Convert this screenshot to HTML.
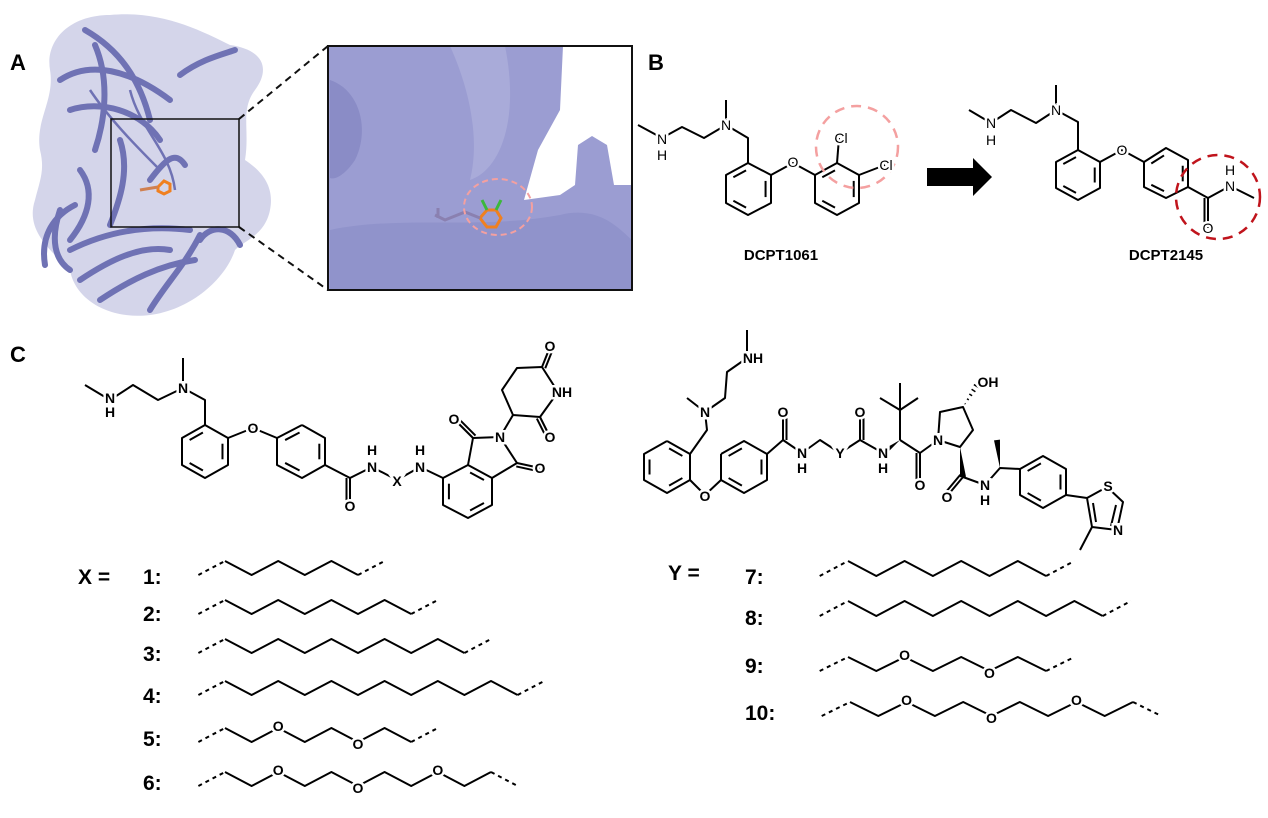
<!DOCTYPE html>
<html><head><meta charset="utf-8"><style>
html,body{margin:0;padding:0;background:#fff;}
svg{display:block;}
.a{font-family:"Liberation Sans",sans-serif;font-weight:bold;font-size:14px;text-anchor:middle;dominant-baseline:central;fill:#000;stroke:#fff;stroke-width:5px;}
.b{font-family:"Liberation Sans",sans-serif;font-size:14px;text-anchor:middle;dominant-baseline:central;fill:#000;stroke:#fff;stroke-width:5px;}
text.f{stroke:none;}
.lab{font-family:"Liberation Sans",sans-serif;font-weight:bold;font-size:22px;fill:#000;}
.num{font-family:"Liberation Sans",sans-serif;font-weight:bold;font-size:21px;fill:#000;}
.nm{font-family:"Liberation Sans",sans-serif;font-weight:bold;font-size:15px;fill:#000;text-anchor:middle;}
</style></head><body>
<svg id="s" width="1268" height="818" viewBox="0 0 1268 818" xmlns="http://www.w3.org/2000/svg">
<g id="prot">
<path d="M50,70 C45,40 70,15 110,15 C160,10 200,30 230,45 C265,50 270,70 255,90 C240,110 250,130 245,160 C260,170 275,185 270,210 C265,235 245,240 235,250 C225,280 190,310 150,315 C110,320 75,300 70,270 C50,250 25,230 35,200 C40,180 45,170 40,150 C35,120 55,100 50,70 Z" fill="#cfd0e8" opacity="0.9"/>
<g fill="none" stroke="#6f72b4" stroke-width="6" stroke-linecap="round">
<path d="M60,80 C90,60 130,70 170,100"/><path d="M85,30 C120,50 140,80 150,120"/>
<path d="M70,110 C100,100 140,110 160,140"/><path d="M95,45 C110,80 105,120 95,150"/>
<path d="M180,75 C200,60 220,55 235,50"/><path d="M120,140 C130,170 120,200 110,225"/>
<path d="M80,170 C95,190 90,215 70,240"/><path d="M150,180 C165,160 175,150 185,165"/>
<path d="M70,250 C110,230 150,225 190,230"/><path d="M80,280 C110,260 140,245 170,250"/>
<path d="M100,300 C130,280 160,265 195,260"/><path d="M150,310 C165,285 185,265 200,235"/>
<path d="M200,240 C210,225 230,225 240,245"/><path d="M60,210 C50,240 55,260 70,270"/>
<path d="M45,265 C40,235 55,215 75,205"/>
</g>
<g fill="none" stroke="#6f72b4" stroke-width="2.5"><path d="M90,90 C110,120 140,150 160,170"/><path d="M130,90 C140,130 170,150 175,190"/></g>
<path d="M158,187 l6,-6 l6,3 l0,7 l-6,3 l-6,-3 z" fill="none" stroke="#f08020" stroke-width="3"/>
<path d="M140,190 l18,-3" stroke="#d08050" stroke-width="3"/>
<rect x="111" y="119" width="128" height="108" fill="none" stroke="#111" stroke-width="1.5"/>
<line x1="239" y1="119" x2="328" y2="46" stroke="#111" stroke-width="2" stroke-dasharray="7,5"/>
<line x1="239" y1="227" x2="328" y2="290" stroke="#111" stroke-width="2" stroke-dasharray="7,5"/>
<rect x="328" y="46" width="304" height="244" fill="#9b9dd2"/>
<path d="M563,46 L632,46 L632,185 L614,185 L607,145 L592,136 L578,145 L575,185 L560,195 L524,200 L538,150 L560,110 Z" fill="#fff"/>
<path d="M330,80 C360,90 370,130 355,160 C345,175 335,180 330,178 Z" fill="#8a8cc6"/>
<path d="M450,46 C470,90 480,140 470,180 C500,170 520,120 505,46 Z" fill="#a9abd9"/>
<path d="M330,230 C400,215 480,230 560,215 C600,205 620,230 632,240 L632,290 L330,290 Z" fill="#9093cb"/>
<path d="M480,218 l7,-8 l9,0 l5,8 l-5,9 l-9,0 z" fill="none" stroke="#f08020" stroke-width="3"/>
<path d="M487,210 l-5,-10 M496,210 l5,-10" stroke="#3cb83c" stroke-width="3"/>
<path d="M435,215 l10,5 l20,-8 l15,6 M438,208 l0,10" fill="none" stroke="#8a80b0" stroke-width="3"/>
<ellipse cx="498" cy="207" rx="34" ry="28" fill="none" stroke="#f4a0a0" stroke-width="2" stroke-dasharray="6,4"/>
<rect x="328" y="46" width="304" height="244" fill="none" stroke="#111" stroke-width="2"/>
</g>
<text class="lab" x="10" y="70">A</text>
<text class="lab" x="648" y="70">B</text>
<text class="lab" x="10" y="362">C</text>
<g id="bonds" stroke="#000" stroke-width="2" fill="none" stroke-linejoin="round"></g>
<circle cx="857" cy="147" r="41" fill="none" stroke="#f4a0a0" stroke-width="2.5" stroke-dasharray="10,7"/>
<circle cx="1218" cy="197" r="42" fill="none" stroke="#c0141c" stroke-width="2.5" stroke-dasharray="10,7"/>
<text class="b" x="662" y="139">N</text><text class="b" x="662" y="155">H</text>
<text class="b" x="726" y="125">N</text><text class="b" x="793" y="162">O</text>
<text class="b" x="841" y="138">Cl</text><text class="b" x="886" y="165">Cl</text>
<text class="nm" x="781" y="260">DCPT1061</text>
<path d="M927,168 L973,168 L973,158 L992,177 L973,196 L973,186 L927,186 Z" fill="#000"/>
<text class="b" x="991" y="123">N</text><text class="b" x="991" y="140">H</text>
<text class="b" x="1056" y="110">N</text><text class="b" x="1122" y="150">O</text>
<text class="b" x="1230" y="186">N</text><text class="b" x="1230" y="170">H</text>
<text class="b" x="1208" y="228">O</text>
<text class="nm" x="1166" y="260">DCPT2145</text>
<text class="a" x="110" y="398">N</text><text class="a" x="110" y="412">H</text>
<text class="a" x="183" y="388">N</text><text class="a" x="253" y="428">O</text>
<text class="a" x="350" y="506">O</text>
<text class="a" x="372" y="467">N</text><text class="a" x="372" y="450">H</text>
<text class="a" x="397" y="481">X</text>
<text class="a" x="420" y="467">N</text><text class="a" x="420" y="450">H</text>
<text class="a" x="454" y="419">O</text><text class="a" x="500" y="437">N</text>
<text class="a" x="540" y="468">O</text><text class="a" x="550" y="346">O</text>
<text class="a" x="562" y="392">NH</text><text class="a" x="550" y="437">O</text>
<text class="a" x="753" y="358">NH</text><text class="a" x="705" y="412">N</text>
<text class="a" x="705" y="496">O</text><text class="a" x="783" y="412">O</text>
<text class="a" x="802" y="453">N</text><text class="a" x="802" y="468">H</text>
<text class="a" x="840" y="453">Y</text><text class="a" x="860" y="412">O</text>
<text class="a" x="883" y="453">N</text><text class="a" x="883" y="468">H</text>
<text class="a" x="920" y="485">O</text><text class="a" x="938" y="440">N</text>
<text class="a" x="988" y="382">OH</text><text class="a" x="947" y="497">O</text>
<text class="a" x="985" y="485">N</text><text class="a" x="985" y="500">H</text>
<text class="a" x="1108" y="486">S</text><text class="a" x="1118" y="530">N</text>
<text class="num" x="78" y="584">X =</text>
<text class="num" x="143" y="584">1:</text><text class="num" x="143" y="621">2:</text>
<text class="num" x="143" y="661">3:</text><text class="num" x="143" y="703">4:</text>
<text class="num" x="143" y="746">5:</text><text class="num" x="143" y="790">6:</text>
<text class="num" x="668" y="580">Y =</text>
<text class="num" x="745" y="584">7:</text><text class="num" x="745" y="625">8:</text>
<text class="num" x="745" y="673">9:</text><text class="num" x="745" y="720">10:</text>
</svg>
<script>
var NS="http://www.w3.org/2000/svg",G=document.getElementById('bonds'),S=document.getElementById('s');
function L(p,w,dash,col){var e=document.createElementNS(NS,'polyline');e.setAttribute('points',p.map(function(q){return q.join(',')}).join(' '));if(w)e.setAttribute('stroke-width',w);if(dash)e.setAttribute('stroke-dasharray',dash);if(col)e.setAttribute('stroke',col);G.insertBefore(e,G.firstChild);}
function ring(v,d){L(v.concat([v[0]]));var cx=0,cy=0;v.forEach(function(p){cx+=p[0];cy+=p[1]});cx/=v.length;cy/=v.length;d.forEach(function(i){var a=v[i],b=v[(i+1)%v.length],f=0.24;var a2=[a[0]+(cx-a[0])*f,a[1]+(cy-a[1])*f],b2=[b[0]+(cx-b[0])*f,b[1]+(cy-b[1])*f];var m=0.12;L([[a2[0]+(b2[0]-a2[0])*m,a2[1]+(b2[1]-a2[1])*m],[b2[0]+(a2[0]-b2[0])*m,b2[1]+(a2[1]-b2[1])*m]]);});}
function D(a,b){L([a,b]);var dx=b[0]-a[0],dy=b[1]-a[1],l=Math.hypot(dx,dy),nx=-dy/l*3.5,ny=dx/l*3.5;L([[a[0]+nx,a[1]+ny],[b[0]+nx,b[1]+ny]]);}
function W(a,b){var dx=b[0]-a[0],dy=b[1]-a[1],l=Math.hypot(dx,dy),nx=-dy/l*3,ny=dx/l*3;var e=document.createElementNS(NS,'polygon');e.setAttribute('points',a.join(',')+' '+(b[0]+nx)+','+(b[1]+ny)+' '+(b[0]-nx)+','+(b[1]-ny));e.setAttribute('fill','#000');e.setAttribute('stroke','none');G.appendChild(e);}
function H(a,b){for(var t=0.15;t<=1;t+=0.2){var x=a[0]+(b[0]-a[0])*t,y=a[1]+(b[1]-a[1])*t,dx=b[0]-a[0],dy=b[1]-a[1],l=Math.hypot(dx,dy),w=3*t;L([[x-dy/l*w,y+dx/l*w],[x+dy/l*w,y-dx/l*w]],1.5);}}
L([[638,125],[662,138],[682,127],[704,138],[726,125],[748,138],[748,163]]);L([[726,125],[726,100]]);
ring([[748,163],[771,175],[771,203],[748,215],[726,203],[726,175]],[1,3,5]);
L([[771,175],[793,163],[815,175]]);
ring([[815,175],[837,163],[859,175],[859,203],[837,215],[815,203]],[0,2,4]);
L([[837,163],[839,138]]);L([[859,175],[885,165]]);
L([[969,110],[991,123],[1011,110],[1036,123],[1056,110],[1078,122],[1078,150]]);L([[1056,110],[1056,85]]);
ring([[1078,150],[1100,162],[1100,188],[1078,200],[1056,188],[1056,162]],[1,3,5]);
L([[1100,162],[1122,150],[1144,162]]);
ring([[1144,162],[1166,148],[1188,160],[1188,187],[1166,198],[1144,187]],[0,2,4]);
L([[1188,187],[1208,198],[1230,186],[1254,198]]);D([1208,198],[1208,228]);
L([[85,385],[110,400],[133,385],[158,400],[183,388],[205,400],[205,425]]);L([[183,388],[183,358]]);
ring([[205,425],[228,438],[228,465],[205,478],[182,465],[182,438]],[1,3,5]);
L([[228,438],[253,428],[277,438]]);
ring([[302,425],[325,438],[325,465],[302,478],[277,465],[277,438]],[1,3,5]);
L([[325,465],[350,478],[372,467],[397,480],[420,467],[443,478]]);D([350,478],[350,505]);
ring([[443,478],[468,465],[492,478],[492,505],[468,518],[443,505]],[1,3,5]);
L([[468,465],[473,438],[500,437],[517,463],[492,478]]);D([473,438],[455,420]);D([517,463],[540,468]);
L([[500,437],[513,415],[502,390],[517,368],[542,367],[558,392],[540,417],[513,415]]);
D([542,367],[550,347]);D([540,417],[550,437]);
L([[747,330],[747,358],[727,372],[725,398],[705,412],[687,398]]);L([[705,412],[707,430],[690,454]]);
ring([[667,441],[690,454],[690,480],[667,493],[644,480],[644,454]],[0,2,4]);
L([[690,480],[705,495],[721,480]]);
ring([[721,454],[744,441],[767,454],[767,480],[744,493],[721,480]],[0,2,4]);
L([[767,454],[783,440],[802,453],[820,440],[840,453],[860,440],[883,453]]);D([783,440],[783,414]);D([860,440],[860,414]);
W([900,440],[883,453]);
L([[900,440],[900,410]]);L([[880,398],[900,410],[918,398]]);L([[900,410],[900,383]]);
L([[900,440],[920,453],[938,440]]);D([920,453],[920,483]);
L([[938,440],[940,412],[963,407],[973,430],[960,447],[938,440]]);H([963,407],[977,385]);
W([960,447],[963,477]);D([963,477],[948,495]);L([[963,477],[985,485],[1000,468],[1020,469]]);W([1000,468],[997,440]);
ring([[1020,469],[1043,456],[1066,469],[1066,495],[1043,508],[1020,495]],[0,2,4]);
L([[1066,495],[1087,498],[1107,487],[1123,502],[1117,530],[1092,527],[1087,498]]);
L([[1096,522],[1093,503]]);L([[1116,505],[1111,526]]);L([[1092,527],[1080,550]]);
function zig(x0,y0,n,step,amp,Os){var v=[];for(var i=0;i<n;i++)v.push([x0+i*step,i%2?y0+amp:y0]);var dsh='4,4';
L([[x0-step,y0+amp],v[0]],2,dsh);var last=v[n-1];L([last,[last[0]+step,(n%2)?y0+amp:y0]],2,dsh);L(v);
(Os||[]).forEach(function(i){var t=document.createElementNS(NS,'text');t.setAttribute('class','a');t.setAttribute('x',v[i][0]);t.setAttribute('y',v[i][1]+(i%2?2:-2));t.textContent='O';S.appendChild(t);});}
zig(225,561,6,26.6,14);zig(225,600,8,26.6,14);zig(225,639,10,26.6,14);zig(225,681,12,26.6,14);
zig(225,728,8,26.6,14,[2,5]);zig(225,772,11,26.6,14,[2,5,8]);
zig(848,561,8,28.3,15);zig(848,601,10,28.3,15);zig(848,657,8,28.3,14,[2,5]);zig(850,702,11,28.3,14,[2,5,8]);
Array.prototype.slice.call(S.querySelectorAll('text.a,text.b')).forEach(function(t){var c=t.cloneNode(true);c.setAttribute('class',t.getAttribute('class')+' f');S.appendChild(c);});
</script>
</body></html>
